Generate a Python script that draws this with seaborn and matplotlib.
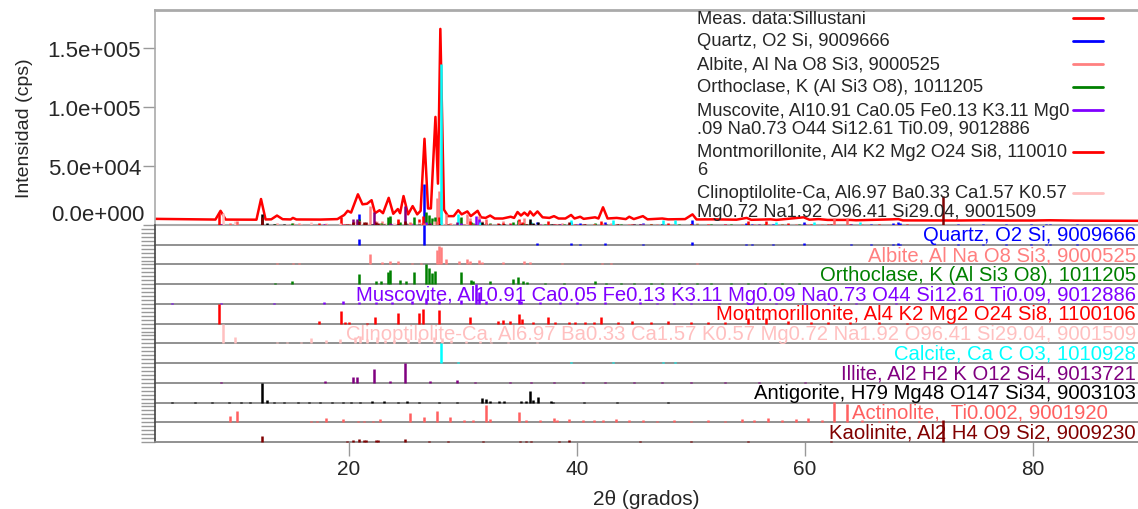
import seaborn as sns
import matplotlib.pyplot as plt
from matplotlib.lines import Line2D

sns.set_theme(style="white")
plt.rcParams['font.family'] = ['Liberation Sans', 'DejaVu Sans']

meas_2t = [3.0, 8.3, 8.75, 9.2, 11.9, 12.3, 12.7, 13.2, 13.7, 14.2, 14.9, 15.1, 15.4, 17.5,
           19.0, 19.6, 19.9, 20.2, 20.8, 21.2, 21.6, 22.0, 22.3, 22.7, 23.0, 23.5, 23.9, 24.3,
           24.5, 24.8, 25.2, 25.6, 26.0, 26.3, 26.64, 26.95, 27.2, 27.6, 27.82, 28.03, 28.35,
           28.7, 29.2, 29.6, 29.9, 30.4, 30.7, 31.3, 31.6, 32.0, 32.4, 32.8, 33.5, 34.2, 34.5,
           34.8, 35.1, 35.4, 35.7, 35.9, 36.2, 36.55, 37.0, 37.6, 38.0, 38.4, 39.0, 39.5, 39.8,
           40.3, 40.6, 41.6, 41.9, 42.3, 42.7, 43.5, 44.3, 44.6, 45.0, 45.8, 46.2, 47.5, 48.0,
           49.5, 50.15, 50.5, 52.0, 54.0, 54.9, 55.3, 57.0, 57.5, 59.9, 60.4, 61.2, 62.0, 64.0,
           64.5, 67.7, 68.2, 68.6, 73.5, 75.7, 77.6, 80.0, 81.5, 83.8, 90.0]
meas_cps = [5200, 4600, 12000, 4600, 4500, 22000, 4700, 4800, 8000, 4900, 4700, 6000, 4700, 4600,
            5000, 8500, 12000, 10500, 26000, 17500, 18000, 21000, 10000, 12500, 10000, 23000, 9500, 13500,
            10000, 24500, 9000, 16000, 9000, 12000, 73000, 14000, 14000, 91500, 35000, 166000, 13000,
            7500, 7500, 12500, 9000, 11500, 7500, 12000, 6500, 6000, 8000, 5500, 5500, 7000, 6000,
            11000, 8000, 10500, 8000, 11500, 8000, 11500, 6500, 6000, 7500, 5500, 5500, 8500, 5500,
            7000, 5200, 6500, 5500, 15000, 5500, 6000, 5000, 7000, 5000, 7500, 4800, 5500, 4800,
            5000, 9000, 4700, 4800, 4500, 6000, 4400, 4800, 4300, 6500, 4500, 5000, 4300, 4300,
            4000, 4800, 5000, 3900, 3800, 4000, 3800, 3800, 4000, 3700, 3500]

phase_labels = [
    "Quartz, O2 Si, 9009666",
    "Albite, Al Na O8 Si3, 9000525",
    "Orthoclase, K (Al Si3 O8), 1011205",
    "Muscovite, Al10.91 Ca0.05 Fe0.13 K3.11 Mg0.09 Na0.73 O44 Si12.61 Ti0.09, 9012886",
    "Montmorillonite, Al4 K2 Mg2 O24 Si8, 1100106",
    "Clinoptilolite-Ca, Al6.97 Ba0.33 Ca1.57 K0.57 Mg0.72 Na1.92 O96.41 Si29.04, 9001509",
    "Calcite, Ca C O3, 1010928",
    "Illite, Al2 H2 K O12 Si4, 9013721",
    "Antigorite, H79 Mg48 O147 Si34, 9003103",
    "Actinolite,  Ti0.002, 9001920     ",
    "Kaolinite, Al2 H4 O9 Si2, 9009230",
]
phase_colors = ["#0000FF", "#FF8080", "#008000", "#8000FF", "#FF0000", "#FFC0C0",
                "#00FFFF", "#800080", "#000000", "#FF6060", "#800000"]

quartz_pos = [20.86, 26.64, 36.54, 39.47, 40.29, 42.45, 45.79, 50.14, 54.87, 55.33, 57.24, 59.96,
              64.04, 65.79, 67.74, 68.14, 68.32, 73.47, 75.66, 77.67, 79.88, 81.17, 81.49, 83.84]
quartz_h = [0.27, 1.0, 0.08, 0.08, 0.05, 0.07, 0.05, 0.13, 0.05, 0.03, 0.03, 0.08,
            0.03, 0.02, 0.05, 0.07, 0.05, 0.02, 0.03, 0.02, 0.03, 0.03, 0.03, 0.02]

albite_pos = [13.7, 15.1, 15.6, 21.9, 22.9, 23.6, 24.3, 25.5, 26.3, 27.7, 27.9, 28.1, 28.5, 29.7,
              30.4, 30.6, 31.4, 31.7, 33.5, 35.4, 35.9, 38.7, 42.2, 43.0, 44.5, 48.2, 50.5, 51.5]
albite_h = [0.05, 0.05, 0.05, 0.53, 0.1, 0.2, 0.15, 0.07, 0.07, 0.75, 0.95, 0.9, 0.3, 0.2,
            0.3, 0.2, 0.25, 0.1, 0.1, 0.2, 0.1, 0.05, 0.05, 0.05, 0.04, 0.04, 0.05, 0.03]

ortho_pos = [13.5, 15.0, 19.3, 20.9, 22.4, 22.8, 23.4, 23.6, 24.5, 25.0, 25.7, 26.8, 27.0, 27.3,
             27.6, 29.8, 30.7, 30.9, 32.4, 34.4, 34.8, 35.3, 35.6, 37.2, 38.9, 41.6, 42.6, 43.9,
             45.0, 46.5, 47.5, 49.0, 50.5, 51.8, 53.5, 55.0, 56.5, 58.0, 59.5, 61.0]
ortho_h = [0.05, 0.15, 0.03, 0.5, 0.15, 0.15, 0.6, 0.7, 0.2, 0.15, 0.6, 1.0, 0.8, 0.55,
           0.65, 0.6, 0.2, 0.15, 0.15, 0.25, 0.35, 0.15, 0.1, 0.07, 0.07, 0.15, 0.07, 0.07,
           0.07, 0.05, 0.05, 0.05, 0.05, 0.05, 0.05, 0.04, 0.04, 0.04, 0.04, 0.03]

musc_pos = [4.5, 8.8, 13.4, 17.8, 19.5, 20.9, 22.4, 23.8, 25.5, 26.8, 27.9, 29.8, 31.2, 31.4,
            32.0, 34.9, 35.1, 36.8, 38.5, 40.0, 42.5, 45.5, 47.0, 48.5, 50.0, 52.5, 55.0, 57.5,
            60.0, 62.0, 64.5, 68.0]
musc_h = [0.05, 0.07, 0.05, 0.1, 0.15, 0.1, 0.1, 0.1, 0.15, 0.3, 0.15, 0.2, 1.0, 0.6,
          0.15, 0.2, 0.15, 0.1, 0.1, 0.08, 0.1, 0.12, 0.05, 0.05, 0.05, 0.05, 0.05, 0.04,
          0.04, 0.04, 0.03, 0.03]

montm_pos = [8.6, 17.4, 19.3, 19.7, 20.0, 21.6, 22.3, 24.3, 26.2, 26.5, 27.9, 30.6, 33.1, 33.5,
             34.1, 34.9, 35.2, 36.2, 37.5, 38.1, 39.3, 39.8, 40.7, 41.5, 42.1, 43.6, 44.8, 46.5,
             48.0, 50.0, 51.5, 53.0, 55.0, 56.6, 58.5, 60.5, 62.0, 64.0, 66.5, 69.0]
montm_h = [1.0, 0.15, 0.65, 0.1, 0.08, 0.05, 0.35, 0.55, 0.55, 0.75, 0.7, 0.35, 0.15, 0.2,
           0.15, 0.5, 0.25, 0.1, 0.35, 0.1, 0.1, 0.07, 0.08, 0.1, 0.35, 0.1, 0.12, 0.1,
           0.15, 0.1, 0.08, 0.1, 0.3, 0.3, 0.15, 0.1, 0.1, 0.08, 0.06, 0.05]

clino_pos = [9.0, 10.0, 13.7, 14.6, 15.8, 16.7, 18.0, 19.2, 20.5, 21.0, 21.6, 22.5, 23.2, 24.0,
             25.2, 26.2, 27.5, 28.2, 29.0, 30.3, 31.5, 32.5, 34.0, 36.5]
clino_h = [1.0, 0.3, 0.05, 0.05, 0.08, 0.25, 0.15, 0.2, 0.3, 0.35, 0.2, 0.3, 0.15, 0.15,
           0.2, 0.25, 0.3, 0.2, 0.15, 0.1, 0.1, 0.08, 0.06, 0.05]

calcite_pos = [28.05, 29.6, 31.5, 36.0, 39.5, 43.2, 47.6, 48.6, 57.5, 60.8, 64.8]
calcite_h = [1.0, 0.07, 0.02, 0.02, 0.03, 0.03, 0.03, 0.03, 0.02, 0.02, 0.02]

illite_pos = [8.8, 17.9, 20.4, 20.7, 22.2, 23.6, 24.9, 27.1, 29.5, 31.1, 34.1, 36.0, 38.0, 40.5,
              42.5, 45.0, 47.5, 50.0, 53.0, 56.0, 60.0]
illite_h = [0.05, 0.07, 0.3, 0.3, 0.7, 0.1, 1.0, 0.1, 0.15, 0.05, 0.05, 0.03, 0.03, 0.03,
            0.03, 0.03, 0.03, 0.03, 0.03, 0.03, 0.03]

antig_pos = [4.5, 6.5, 8.0, 9.5, 10.5, 11.3, 12.35, 12.8, 13.4, 14.3, 15.5, 16.5, 17.5, 18.5,
             19.5, 20.2, 21.0, 22.0, 23.1, 24.3, 25.1, 26.2, 27.9, 29.5, 31.7, 32.0, 32.4, 33.2,
             33.6, 35.1, 35.5, 35.9, 36.2, 36.6, 37.7, 37.9, 40.6, 43.5, 48.0]
antig_h = [0.03, 0.03, 0.03, 0.03, 0.03, 0.03, 1.0, 0.15, 0.05, 0.05, 0.03, 0.03, 0.03, 0.03,
           0.03, 0.03, 0.03, 0.1, 0.1, 0.05, 0.1, 0.05, 0.05, 0.03, 0.25, 0.2, 0.1, 0.1,
           0.1, 0.1, 0.1, 0.6, 0.15, 0.3, 0.07, 0.05, 0.05, 0.05, 0.03]

actin_pos = [9.6, 10.2, 16.7, 17.2, 18.0, 19.5, 20.8, 21.3, 22.1, 22.7, 25.4, 26.6, 27.7, 28.9,
             30.1, 30.9, 32.0, 32.4, 34.9, 35.5, 36.8, 38.0, 38.3, 39.3, 40.5, 41.5, 42.3, 43.4,
             44.6, 45.8, 47.0, 48.5, 50.0, 51.5, 53.0, 54.5, 55.5, 56.8, 58.0, 59.2, 60.3, 61.5,
             62.6, 63.7, 65.0, 66.5, 68.0, 70.0, 72.0, 74.5, 77.0, 80.0]
actin_h = [0.3, 0.55, 0.05, 0.07, 0.2, 0.15, 0.05, 0.05, 0.05, 0.15, 0.45, 0.25, 0.55, 0.25,
           0.1, 0.1, 0.9, 0.15, 0.5, 0.1, 0.1, 0.2, 0.1, 0.15, 0.1, 0.1, 0.1, 0.15,
           0.1, 0.1, 0.08, 0.1, 0.08, 0.1, 0.08, 0.15, 0.1, 0.2, 0.1, 0.15, 0.2, 0.1,
           1.05, 0.95, 0.1, 0.05, 0.08, 0.05, 0.05, 0.04, 0.04, 0.03]

kaol_pos = [12.35, 19.8, 20.4, 20.9, 21.3, 21.5, 22.4, 22.6, 24.9, 27.0, 28.7, 31.8, 35.0, 35.5,
            36.0, 38.4, 39.3, 45.5, 50.0, 55.0, 62.3, 72.1]
kaol_h = [0.3, 0.05, 0.1, 0.15, 0.12, 0.1, 0.1, 0.08, 0.15, 0.05, 0.05, 0.05, 0.05, 0.05,
          0.05, 0.05, 0.1, 0.04, 0.04, 0.04, 0.05, 1.1]

phase_pos = [quartz_pos, albite_pos, ortho_pos, musc_pos, montm_pos, clino_pos,
             calcite_pos, illite_pos, antig_pos, actin_pos, kaol_pos]
phase_h = [quartz_h, albite_h, ortho_h, musc_h, montm_h, clino_h,
           calcite_h, illite_h, antig_h, actin_h, kaol_h]
# altura (cps) de cada fase en el panel superior
phase_scale = [35000, 30000, 11000, 8000, 10000, 10000, 136000, 16000, 9000, 6000, 22000]

legend_labels = [
    "Meas. data:Sillustani",
    "Quartz, O2 Si, 9009666",
    "Albite, Al Na O8 Si3, 9000525",
    "Orthoclase, K (Al Si3 O8), 1011205",
    "Muscovite, Al10.91 Ca0.05 Fe0.13 K3.11 Mg0\n.09 Na0.73 O44 Si12.61 Ti0.09, 9012886",
    "Montmorillonite, Al4 K2 Mg2 O24 Si8, 110010\n6",
    "Clinoptilolite-Ca, Al6.97 Ba0.33 Ca1.57 K0.57\nMg0.72 Na1.92 O96.41 Si29.04, 9001509",
]
legend_colors = ["#FF0000"] + phase_colors[:6]

yticks = [0, 50000, 100000, 150000]
ytick_labels = ["", "5.0e+004", "1.0e+005", "1.5e+005"]
xticks = [20, 40, 60, 80]

W, H = 1138, 510
X0, X1 = 155, 1138
XMIN, XMAX = 3.0, 3.0 + (X1 - X0) / 11.4
GRAY = "#999999"


def box(x0, y0, x1, y1):
    return [x0 / W, 1 - y1 / H, (x1 - x0) / W, (y1 - y0) / H]


fig = plt.figure(figsize=(W / 100, H / 100), dpi=100)

# ---- panel superior ----
ax = fig.add_axes(box(X0, 11, X1, 226))
df = {"2t": meas_2t, "cps": meas_cps}
sns.lineplot(x="2t", y="cps", data=df, color="#FF0000", lw=1.8, ax=ax, zorder=2)
for pos, h, c, s in zip(phase_pos, phase_h, phase_colors, phase_scale):
    ax.vlines(pos, 0, [v * s for v in h], colors=c, lw=1.8, zorder=3)
ax.set_xlim(XMIN, XMAX)
ax.set_ylim(0, 182000)
ax.set_xticks([])
ax.set_xlabel("")
ax.set_yticks(yticks)
ax.set_yticklabels(ytick_labels, fontsize=16)
ax.tick_params(axis="y", left=True, length=9, width=1, color=GRAY, pad=1)
ax.text(-11 / 983, 0, "0.0e+000", transform=ax.get_yaxis_transform(), ha="right",
        va="bottom", fontsize=16)
ax.set_ylabel("Intensidad (cps)", fontsize=14)
ax.yaxis.set_label_coords(-0.124, 0.455)
for side in ["top", "left", "bottom"]:
    ax.spines[side].set_color("#AAAAAA")
ax.spines["top"].set_linewidth(2)
ax.spines["left"].set_linewidth(1.2)
ax.spines["bottom"].set_linewidth(1.5)
ax.spines["right"].set_visible(False)

# leyenda dibujada a mano (texto a la izquierda, linea a la derecha)
y = 19
for lab, c in zip(legend_labels, legend_colors):
    lines = lab.split("\n")
    fig.add_artist(Line2D([1073 / W, 1103 / W], [1 - y / H, 1 - y / H], color=c, lw=2))
    for k, ln in enumerate(lines):
        fig.text(697 / W, 1 - (y + k * 18.5) / H, ln, ha="left", va="center", fontsize=13.2)
    y += 23 + 18.5 * (len(lines) - 1)

# ---- paneles de barras ----
n = len(phase_labels)
ph = (443 - 226) / n
for i in range(n):
    a = fig.add_axes(box(X0, 226 + i * ph, X1, 226 + (i + 1) * ph))
    a.vlines(phase_pos[i], 0, phase_h[i], colors=phase_colors[i], lw=1.8, clip_on=False, zorder=3)
    a.set_xlim(XMIN, XMAX)
    a.set_ylim(0, 1)
    a.set_yticks([0, 0.2, 0.4, 0.6, 0.8])
    a.set_yticklabels([])
    a.tick_params(axis="y", left=True, length=10, width=1, color=GRAY)
    a.text(1 - 2 / 983, 0.5, phase_labels[i], transform=a.transAxes, ha="right",
           va="center", color=phase_colors[i], fontsize=14.6, zorder=4)
    a.patch.set_alpha(0)
    a.spines["top"].set_visible(False)
    a.spines["right"].set_visible(False)
    a.spines["bottom"].set_color("#888888")
    a.spines["bottom"].set_linewidth(1.3)
    a.spines["left"].set_color("#444444")
    a.spines["left"].set_linewidth(1.2)
    if i < n - 1:
        a.set_xticks([])
    else:
        a.set_xticks(xticks)
        a.set_xticklabels([str(t) for t in xticks], fontsize=15)
        a.tick_params(axis="x", bottom=True, length=10, width=1, color=GRAY, pad=2)
        a.set_xlabel("2θ (grados)", fontsize=15, labelpad=8)

fig.savefig("out.png", dpi=100)
